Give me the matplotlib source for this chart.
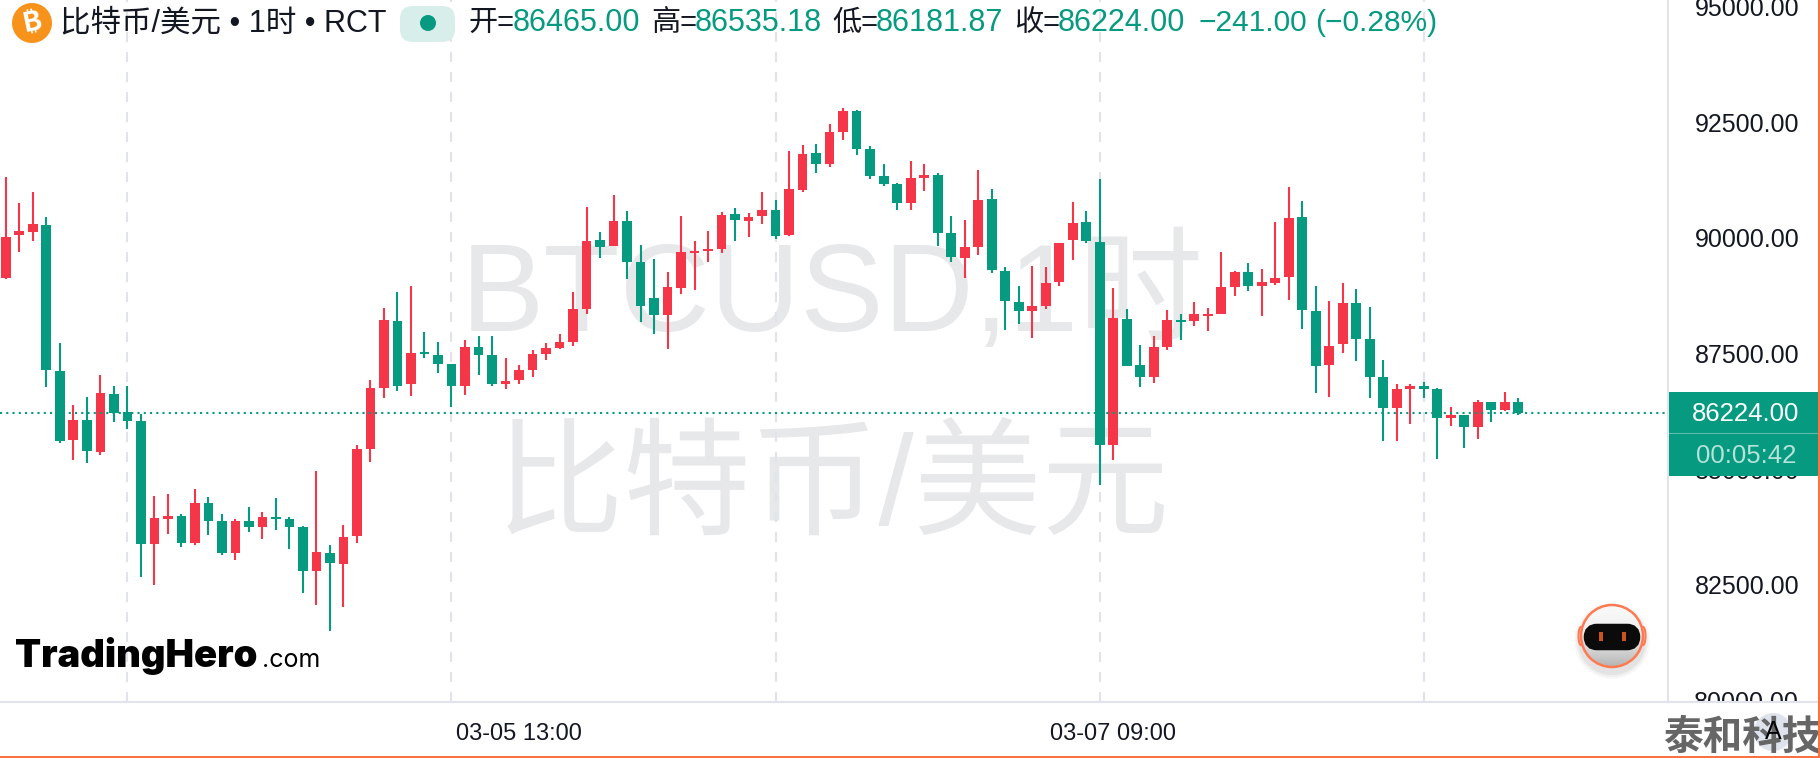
import matplotlib
matplotlib.use("Agg")
import numpy as np
from matplotlib import pyplot as plt
from matplotlib.patches import Circle, Rectangle, FancyBboxPatch, Ellipse
from matplotlib.transforms import Affine2D

W, H = 1820, 758
GREEN = '#069A81'
RED = '#F43648'
GRID = '#E0E3EB'
ORANGE = '#FF7043'

opens = [89144, 90074, 90139, 90291, 87133, 85640, 86073, 85381, 86635, 86246,
         86051, 83391, 83932, 83996, 83413, 84278, 83888, 83196, 83888, 83759,
         83975, 83932, 83759, 82807, 83196, 82958, 83564, 85446, 86765, 88214,
         86852, 87544, 87479, 87284, 86809, 87652, 87479, 86852, 86938, 87155,
         87501, 87630, 87760, 88474, 89966, 89837, 90377, 89491, 88712, 88344,
         88928, 89685, 89729, 89772, 90529, 90377, 90486, 90615, 90075, 91048,
         91848, 91610, 92303, 92757, 91935, 91351, 91178, 90767, 91308, 91372,
         90118, 89577, 89815, 90853, 89296, 88625, 88431, 88539, 89058, 89966,
         90356, 89923, 85532, 88258, 87263, 87003, 87652, 88236, 88214, 88323,
         88366, 88950, 89274, 88971, 89036, 89166, 90464, 88431, 87263, 87717,
         88604, 87825, 87003, 86332, 86743, 86808, 86743, 86116, 86181, 85921,
         86462, 86289, 86465]
closes = [90031, 90161, 90312, 87154, 85619, 86073, 85402, 86657, 86224, 86051,
          83391, 83953, 83996, 83413, 84278, 83888, 83196, 83888, 83759, 83975,
          83932, 83759, 82807, 83218, 82980, 83542, 85446, 86765, 88236, 86808,
          87522, 87501, 87284, 86809, 87652, 87479, 86852, 86917, 87155, 87501,
          87630, 87760, 88474, 89945, 89815, 90377, 89491, 88539, 88344, 88950,
          89707, 89729, 89772, 90507, 90399, 90464, 90615, 90053, 91070, 91827,
          91610, 92303, 92757, 91935, 91351, 91178, 90767, 91308, 91372, 90118,
          89599, 89815, 90832, 89318, 88647, 88431, 88539, 89036, 89902, 90334,
          89945, 85532, 88279, 87241, 87003, 87652, 88236, 88193, 88366, 88366,
          88950, 89274, 88971, 89058, 89144, 90442, 88452, 87241, 87674, 88604,
          87825, 87003, 86332, 86743, 86808, 86743, 86116, 86181, 85921, 86462,
          86289, 86462, 86224]
highs = [91329, 90767, 91005, 90464, 87738, 86397, 86570, 87046, 86808, 86808,
         86203, 84429, 84472, 84040, 84580, 84407, 84040, 83932, 84191, 84083,
         84386, 83975, 83780, 84970, 83369, 83802, 85532, 86938, 88495, 88841,
         88971, 87977, 87760, 87284, 87803, 87890, 87890, 87414, 87263, 87587,
         87739, 87933, 88842, 90680, 90140, 90940, 90594, 89858, 89555, 89274,
         90486, 89945, 90161, 90572, 90659, 90550, 91005, 90832, 91892, 92021,
         92043, 92476, 92822, 92778, 92000, 91610, 91199, 91675, 91610, 91416,
         90486, 90399, 91481, 91070, 89382, 88972, 89404, 89382, 89902, 90788,
         90594, 91286, 88928, 88474, 87695, 87890, 88452, 88366, 88625, 88496,
         89707, 89296, 89469, 89339, 90356, 91113, 90810, 88971, 88647, 89036,
         88906, 88517, 87371, 86852, 86852, 86895, 86765, 86354, 86181, 86505,
         86462, 86679, 86535]
lows = [89123, 89707, 89945, 86787, 85575, 85208, 85143, 85316, 86030, 85878,
        82677, 82504, 83607, 83326, 83369, 83586, 83153, 83045, 83650, 83499,
        83694, 83283, 82331, 82071, 81509, 82028, 83413, 85164, 86549, 86700,
        86592, 87414, 87090, 86354, 86614, 87046, 86809, 86744, 86852, 87003,
        87371, 87609, 87674, 88366, 89577, 89837, 89123, 88193, 87933, 87609,
        88799, 88885, 89491, 89685, 89945, 90031, 90313, 89988, 90053, 91005,
        91416, 91545, 92130, 91805, 91286, 91135, 90615, 90615, 91026, 89837,
        89491, 89145, 89642, 89253, 88020, 88150, 87847, 88474, 88972, 89534,
        89902, 84667, 85208, 87241, 86787, 86873, 87587, 87803, 88106, 87998,
        88366, 88755, 88863, 88322, 88993, 88668, 88041, 86657, 86570, 87522,
        87349, 86549, 85619, 85619, 85986, 86549, 85229, 85943, 85467, 85662,
        86030, 86268, 86182]

y_ticks = [80000, 82500, 85000, 87500, 90000, 92500, 95000]
x_tick_pos = [38, 82]
x_tick_labels = ['03-05 13:00', '03-07 09:00']
day_lines = [9, 33, 57, 81, 105]
last_price = 86224.00
countdown = '00:05:42'
legend_parts = [('开=', '86465.00', 469), ('高=', '86535.18', 651),
                ('低=', '86181.87', 832), ('收=', '86224.00', 1014)]
legend_change = [('−241.00', 1199), ('(−0.28%)', 1315)]

plt.rcParams['font.family'] = ['Liberation Sans', 'Noto Sans CJK SC', 'DejaVu Sans']

fig = plt.figure(figsize=(W / 100, H / 100), dpi=100, facecolor='white')
# pixel coordinates of the screenshot, for the decorations only
px = Affine2D().scale(1 / W, -1 / H).translate(0, 1) + fig.transFigure

ax = fig.add_axes([0, (H - 702) / H, 1668 / W, 702 / H])
ax.set_xlim(-0.444, 123.11)
ax.set_ylim(79969, 95154)

idx = np.arange(len(opens))
o, c, h, l = map(np.array, (opens, closes, highs, lows))
colors = np.where(c >= o, RED, GREEN)

ax.vlines(day_lines, 79969, 95154, color=GRID, lw=1.5, linestyles=(0, (4.8, 4.8)), zorder=1)
ax.vlines(idx, l, h, color=colors, lw=1.5, zorder=3)
ax.bar(idx, np.abs(c - o), bottom=np.minimum(o, c), width=0.74, color=colors, linewidth=0, zorder=4)
ax.axhline(last_price, color=GREEN, lw=1.5, linestyle=(0, (1, 2)), zorder=5)

# watermark
ax.text(832, 297, 'BTCUSD,1时', transform=px, fontsize=90, color='#E7E8EA', ha='center', va='center', zorder=0)
ax.text(833, 493, '比特币/美元', transform=px, fontsize=92, fontweight='medium', color='#E7E8EA',
        ha='center', va='center', zorder=0)

for s in ('top', 'left'):
    ax.spines[s].set_visible(False)
for s in ('bottom', 'right'):
    ax.spines[s].set_color(GRID)
    ax.spines[s].set_linewidth(1.5)
ax.set_yticks([])
ax.set_xticks(x_tick_pos, x_tick_labels, fontsize=17, color='#131722')
ax.tick_params(axis='x', length=0, pad=15)

# price axis panel
ax2 = fig.add_axes([1669 / W, (H - 702) / H, (W - 1669) / W, 702 / H])
ax2.set_ylim(ax.get_ylim())
ax2.set_xlim(0, 1)
ax2.set_xticks([])
ax2.set_yticks([])
for s in ('top', 'left', 'right'):
    ax2.spines[s].set_visible(False)
ax2.spines['bottom'].set_color(GRID)
ax2.spines['bottom'].set_linewidth(1.5)
for t in y_ticks:
    ax2.annotate(f'{t:.2f}', (0.515, t), xytext=(0, -1.5), textcoords='offset points', fontsize=18,
                 color='#131722', ha='center', va='center', clip_on=True, annotation_clip=False, zorder=1)
ax2.add_patch(Rectangle((1668, 392), 150, 84, transform=px, fc=GREEN, ec='none', zorder=5))
ax2.plot([1668, 1818], [433, 433], transform=px, color='#5DBCAB', lw=0.8, zorder=6)
ax2.text(1746, 414, f'{last_price:.2f}', transform=px, fontsize=18.5, color='white', ha='center', va='center', zorder=7)
ax2.text(1746, 456, countdown, transform=px, fontsize=18.5, color='#B5E2D9', ha='center', va='center', zorder=7)

# everything else sits above the axes
top = fig.add_axes([0, 0, 1, 1], facecolor='none')
top.set_xlim(0, W)
top.set_ylim(H, 0)
top.axis('off')

# header
top.add_patch(Circle((32, 23), 20, fc='#F7931A', ec='none'))
top.text(32, 23, '₿', fontsize=20, color='white', fontweight='bold', family=['Inter', 'Noto Sans', 'Roboto', 'Open Sans', 'Lato'],
         ha='center', va='center', rotation=12)
top.text(60, 23, '比特币/美元 • 1时 • RCT', fontsize=22, color='#131722', va='center')
top.add_patch(FancyBboxPatch((400, 6), 55, 36, boxstyle='round,pad=0,rounding_size=13', fc='#D7EEEA', ec='none',
                             mutation_aspect=1))
top.add_patch(Circle((428, 23), 8, fc=GREEN, ec='none'))
for name, value, x in legend_parts:
    top.text(x, 23, name, fontsize=21, color='#131722', va='center')
    top.text(x + 44, 23, value, fontsize=22, color=GREEN, va='center')
for value, x in legend_change:
    top.text(x, 23, value, fontsize=21.5, color=GREEN, va='center')

# TradingHero logo
top.text(15, 667, 'TradingHero', fontsize=27.5, fontweight='black', family='Inter', color='black', va='baseline')
top.text(262, 667, '.com', fontsize=18, family='Inter', color='black', va='baseline')

# robot badge
for r, a in ((38, 0.05), (36, 0.07), (34, 0.1)):
    top.add_patch(Circle((1612, 641), r, fc='#808080', ec='none', alpha=a))
top.add_patch(Ellipse((1581, 636), 5, 18, fc='#F2F2F2', ec='#FF7A50', lw=1.5))
top.add_patch(Ellipse((1643, 636), 5, 18, fc='#F2F2F2', ec='#FF7A50', lw=1.5))
face = top.add_patch(Circle((1612, 636), 31, fc='none', ec='none'))
grad = np.linspace(0, 1, 64).reshape(-1, 1) ** 2
img = top.imshow(grad, extent=(1581, 1643, 667, 605), cmap='gray_r', vmin=-0.1, vmax=3.6, aspect='auto', zorder=2)
img.set_clip_path(face)
top.set_xlim(0, W)
top.set_ylim(H, 0)
top.add_patch(Circle((1612, 636), 31, fc='none', ec='#FF7A50', lw=1.8, zorder=3))
top.add_patch(FancyBboxPatch((1590, 630), 44, 14, boxstyle='round,pad=0,rounding_size=7', fc='#0B0B0B', ec='#0B0B0B',
                             lw=9, zorder=3))
top.add_patch(Rectangle((1599, 632), 4, 9, fc='#C9541C', ec='none', zorder=4))
top.add_patch(Rectangle((1622, 632), 4, 9, fc='#C9541C', ec='none', zorder=4))

# bottom right corner
top.add_patch(Circle((1773, 732), 19, fc='#DDE2EC', ec='none'))
top.text(1663, 738, '泰和科技', fontsize=28.5, fontweight='bold', color='#666666', va='center', clip_on=True)
top.text(1773, 732, 'A', fontsize=18, color='black', ha='center', va='center')

# orange frame of the screenshot
top.add_patch(Rectangle((1817.5, 0), 2.5, H, fc=ORANGE, ec='none', zorder=6))
top.add_patch(Rectangle((0, 755.5), W, 2.5, fc=ORANGE, ec='none', zorder=6))

fig.savefig('out.png', dpi=100)
